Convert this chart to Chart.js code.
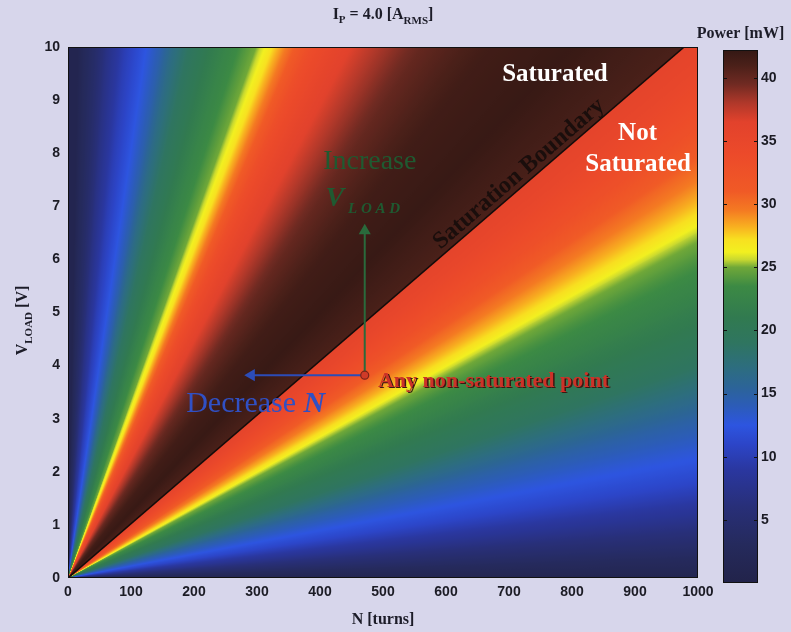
<!DOCTYPE html>
<html><head><meta charset="utf-8">
<script src="https://cdn.jsdelivr.net/npm/chart.js@4.4.0/dist/chart.umd.min.js"></script>
<style>
html,body{margin:0;padding:0;background:#d7d6eb;}
#wrap{position:relative;width:791px;height:632px;overflow:hidden;background:#d7d6eb;}
#main{position:absolute;left:0;top:0;width:791px;height:632px;}
#cbar{position:absolute;left:690px;top:0;width:101px;height:632px;}
</style></head><body>
<div id="wrap">
<canvas id="main" width="791" height="632"></canvas>
<canvas id="cbar" width="101" height="632"></canvas>
</div>
<script>
// ---------- DATA ----------
const xTicks = [0,100,200,300,400,500,600,700,800,900,1000];
const yTicks = [0,1,2,3,4,5,6,7,8,9,10];
const cbarTicks = [5,10,15,20,25,30,35,40];
const cbarRange = [0, 42.2];
const nRange = [0, 1000];
const vRange = [0, 10];

// Power along rays V/N (volts per turn), saturated side (steep rays -> boundary)
const satSlope = [1.0, 0.40, 0.224, 0.16, 0.11, 0.0806, 0.068, 0.061, 0.052, 0.043, 0.037, 0.0335, 0.031, 0.0285, 0.026, 0.023, 0.0204, 0.0178, 0.015, 0.0125, 0.01023];
const satPower = [1.0, 2.5, 4.5, 7.0, 10.0, 12.5, 14.5, 16.5, 19.0, 21.5, 23.5, 25.0, 27.0, 30.0, 33.5, 36.0, 38.0, 40.0, 41.5, 42.0, 41.0];
// non-saturated side (boundary -> N axis)
const unsatSlope = [0.01023, 0.0095, 0.0085, 0.0078, 0.0072, 0.0068, 0.0065, 0.006, 0.005, 0.004, 0.0035, 0.003, 0.0024, 0.0018, 0.0012, 0.0006, 0.0];
const unsatPower = [36.0, 35.0, 33.0, 30.5, 28.5, 27.0, 25.5, 24.0, 21.5, 19.0, 17.0, 15.0, 13.0, 11.0, 8.0, 4.5, 1.0];

// saturation boundary line
const boundaryN = [0, 978];
const boundaryV = [0, 10];
// operating point and arrows
const pointN = [471];
const pointV = [3.82];
const upArrowV = [3.82, 6.54];
const leftArrowN = [471, 291];

// colour map (Power mW -> colour)
const cmapPower = [0, 3, 6, 9, 11, 12.5, 14, 15.5, 17, 19, 21, 23.5, 25, 25.6, 26.2, 27.2, 28.2, 29.5, 31, 34, 36.5, 38, 39.5, 41, 42.2];
const cmapColor = ['#22234a','#252a5c','#282f78','#2a37a0','#2c45c8','#2d55e0','#2c5cb8','#2c6498','#2d6d80','#2f7560','#317a50','#3c8a44','#70a838','#c8d830','#f2f020','#f8e020','#f8b020','#f47a22','#f05a26','#ec4a2a','#e2422c','#b0382a','#702a22','#4a2019','#341814'];

// ---------- helpers ----------
function hex2rgb(h){return [parseInt(h.substr(1,2),16),parseInt(h.substr(3,2),16),parseInt(h.substr(5,2),16)];}
const cmapRGB = cmapColor.map(hex2rgb);
function cmap(p){
  if(p<=cmapPower[0]) return 'rgb('+cmapRGB[0].join(',')+')';
  for(let i=0;i<cmapPower.length-1;i++){
    if(p<=cmapPower[i+1]){
      const t=(p-cmapPower[i])/(cmapPower[i+1]-cmapPower[i]);
      const a=cmapRGB[i], b=cmapRGB[i+1];
      return 'rgb('+[0,1,2].map(j=>Math.round(a[j]+(b[j]-a[j])*t)).join(',')+')';
    }
  }
  return 'rgb('+cmapRGB[cmapRGB.length-1].join(',')+')';
}
const SUB = 14;
function fieldGradient(chart){
  const {ctx, chartArea, scales} = chart;
  if(!chartArea) return 'rgba(0,0,0,0)';
  const xs=scales.x, ys=scales.y;
  const x0=xs.getPixelForValue(0), y0=ys.getPixelForValue(0);
  const px=xs.getPixelForValue(nRange[1])-x0;
  const off = k => Math.atan2(px, y0-ys.getPixelForValue(k*nRange[1]))/(2*Math.PI);
  const g = ctx.createConicGradient(-Math.PI/2, x0, y0);
  g.addColorStop(0, cmap(satPower[0]));
  function addProfile(sl, pw){
    for(let i=0;i<sl.length-1;i++){
      const o1=off(sl[i]), o2=off(sl[i+1]);
      for(let s=0;s<SUB;s++){const t=s/SUB; g.addColorStop(o1+(o2-o1)*t, cmap(pw[i]+(pw[i+1]-pw[i])*t));}
    }
    g.addColorStop(off(sl[sl.length-1]), cmap(pw[pw.length-1]));
  }
  addProfile(satSlope, satPower);
  addProfile(unsatSlope, unsatPower);
  g.addColorStop(1, cmap(unsatPower[unsatPower.length-1]));
  return g;
}

const SERIF = '"Liberation Serif","Times New Roman",serif';
const SANS = '"Liberation Sans",Arial,sans-serif';
function drawRuns(ctx, runs, x, y){
  let w=0; runs.forEach(r=>{ctx.font=r[1]; w+=ctx.measureText(r[0]).width;});
  let cx=x-w/2;
  runs.forEach(r=>{ctx.font=r[1]; ctx.fillText(r[0], cx, y+(r[2]||0)); cx+=ctx.measureText(r[0]).width;});
}

const textPlugin = {
  id:'texts',
  afterDatasetsDraw(chart){
    const {ctx, chartArea:a, scales:{x:xs,y:ys}} = chart;
    ctx.save();
    // frame
    ctx.strokeStyle='#111'; ctx.lineWidth=1;
    ctx.strokeRect(a.left+0.5, a.top+0.5, a.right-a.left-1, a.bottom-a.top-1);
    ctx.textBaseline='alphabetic';
    // in-plot annotations
    const P=(n,v)=>[xs.getPixelForValue(n), ys.getPixelForValue(v)];
    ctx.fillStyle='#ffffff';
    let p=P(773,9.53); drawRuns(ctx, [['Saturated','bold 25px '+SERIF]], p[0], p[1]+9);
    p=P(904,8.42); drawRuns(ctx, [['Not','bold 25px '+SERIF]], p[0], p[1]+9);
    p=P(905,7.83); drawRuns(ctx, [['Saturated','bold 25px '+SERIF]], p[0], p[1]+9);
    // boundary label rotated along the line
    const b0=P(boundaryN[0],boundaryV[0]), b1=P(boundaryN[1],boundaryV[1]);
    const ang=Math.atan2(b1[1]-b0[1], b1[0]-b0[0]);
    p=P(713,7.65);
    ctx.save(); ctx.translate(p[0],p[1]); ctx.rotate(ang);
    ctx.fillStyle='#1a0e0c'; drawRuns(ctx, [['Saturation Boundary','bold 24px '+SERIF]], 0, 9);
    ctx.restore();
    // increase V_LOAD
    ctx.fillStyle='#1f5a31';
    p=P(479,7.87); drawRuns(ctx, [['Increase','28px '+SERIF]], p[0], p[1]+9);
    p=P(468,7.18); drawRuns(ctx, [['V','italic bold 28px '+SERIF],[' L O A D','italic bold 15px '+SERIF,7]], p[0], p[1]+9);
    // decrease N
    ctx.fillStyle='#3050c4';
    p=P(298,3.31); drawRuns(ctx, [['Decrease ','30px '+SERIF],['N','italic bold 30px '+SERIF]], p[0], p[1]+10);
    // any non-saturated point
    p=P(492,3.73);
    ctx.font='bold 22px '+SERIF; ctx.textAlign='left';
    ctx.fillStyle='#3a1812'; ctx.fillText('Any non-saturated point', p[0]+1.5, p[1]+8.5);
    ctx.fillStyle='#cc3228'; ctx.fillText('Any non-saturated point', p[0], p[1]+7);
    // title and axis titles
    ctx.fillStyle='#1c1c28';
    drawRuns(ctx, [['I','bold 16px '+SERIF],['P','bold 11px '+SERIF,4],[' = 4.0 [A','bold 16px '+SERIF],['RMS','bold 11px '+SERIF,5],[']','bold 16px '+SERIF]], (a.left+a.right)/2, 19);
    drawRuns(ctx, [['N [turns]','bold 16px '+SERIF]], (a.left+a.right)/2, 624);
    ctx.save(); ctx.translate(27, (a.top+a.bottom)/2+8); ctx.rotate(-Math.PI/2);
    drawRuns(ctx, [['V','bold 16px '+SERIF],['LOAD','bold 11px '+SERIF,5],[' [V]','bold 16px '+SERIF]], 0, 0);
    ctx.restore();
    ctx.restore();
  }
};

const tickFont = {family:SANS, weight:'bold', size:14};
const plain = v => String(v);
new Chart(document.getElementById('main'), {
  type:'scatter',
  data:{datasets:[
    {type:'line', data:[{x:nRange[0],y:vRange[1]},{x:nRange[1],y:vRange[1]}], fill:'start', backgroundColor:c=>fieldGradient(c.chart), borderWidth:0, pointRadius:0, order:10},
    {type:'line', data:boundaryN.map((n,i)=>({x:n,y:boundaryV[i]})), borderColor:'#140c0a', borderWidth:1.6, pointRadius:0, fill:false, order:5},
    {type:'line', data:upArrowV.map(v=>({x:pointN[0],y:v})), borderColor:'#2a6a3c', borderWidth:2, pointRadius:[0,5], pointStyle:'triangle', rotation:0, pointBackgroundColor:'#2a6a3c', pointBorderColor:'#2a6a3c', fill:false, order:4},
    {type:'line', data:leftArrowN.map(n=>({x:n,y:pointV[0]})), borderColor:'#2c4cb8', borderWidth:2, pointRadius:[0,5], pointStyle:'triangle', rotation:-90, pointBackgroundColor:'#2c4cb8', pointBorderColor:'#2c4cb8', fill:false, order:3},
    {type:'scatter', data:pointN.map((n,i)=>({x:n,y:pointV[i]})), pointRadius:4, pointBackgroundColor:'#d03a28', pointBorderColor:'#7a2418', pointBorderWidth:1.2, order:1}
  ]},
  options:{
    responsive:false, animation:false, devicePixelRatio:1,
    layout:{padding:{left:0, top:47, right:93, bottom:0}},
    plugins:{legend:{display:false}, tooltip:{enabled:false}, title:{display:false}},
    scales:{
      x:{type:'linear', min:nRange[0], max:nRange[1], afterBuildTicks:s=>{s.ticks=xTicks.map(v=>({value:v}));}, afterFit:s=>{s.height=54;},
         grid:{display:false, drawTicks:false}, border:{display:false},
         ticks:{padding:6, color:'#1b1b24', font:tickFont, maxRotation:0, autoSkip:false, callback:plain}},
      y:{type:'linear', min:vRange[0], max:vRange[1], afterBuildTicks:s=>{s.ticks=yTicks.map(v=>({value:v}));}, afterFit:s=>{s.width=68;},
         grid:{display:false, drawTicks:false}, border:{display:false},
         ticks:{padding:8, color:'#1b1b24', font:tickFont, autoSkip:false, callback:plain}}
    }
  },
  plugins:[textPlugin]
});

// ---------- colour bar ----------
function cbarGradient(chart){
  const {ctx, chartArea, scales} = chart;
  if(!chartArea) return 'rgba(0,0,0,0)';
  const y0=scales.y.getPixelForValue(cbarRange[0]), y1=scales.y.getPixelForValue(cbarRange[1]);
  const g=ctx.createLinearGradient(0,y0,0,y1);
  cmapPower.forEach((p,i)=>g.addColorStop(Math.min(1,(p-cbarRange[0])/(cbarRange[1]-cbarRange[0])), cmapColor[i]));
  return g;
}
const cbarPlugin = {
  id:'cbarDeco',
  afterDatasetsDraw(chart){
    const {ctx, chartArea:a, scales:{y:ys}} = chart;
    ctx.save();
    ctx.strokeStyle='#111'; ctx.lineWidth=1;
    ctx.strokeRect(a.left+0.5, a.top+0.5, a.right-a.left-1, a.bottom-a.top-1);
    cbarTicks.forEach(v=>{
      const y=Math.round(ys.getPixelForValue(v))+0.5;
      ctx.beginPath(); ctx.moveTo(a.left,y); ctx.lineTo(a.left+4,y); ctx.moveTo(a.right-4,y); ctx.lineTo(a.right,y); ctx.stroke();
    });
    ctx.fillStyle='#1c1c28'; ctx.textBaseline='alphabetic';
    drawRuns(ctx, [['Power [mW]','bold 16px '+SERIF]], (a.left+a.right)/2, 38);
    ctx.restore();
  }
};
new Chart(document.getElementById('cbar'), {
  type:'bar',
  data:{labels:[''], datasets:[{data:[cbarRange.slice()], backgroundColor:c=>cbarGradient(c.chart), borderWidth:0, barPercentage:1, categoryPercentage:1}]},
  options:{
    responsive:false, animation:false, devicePixelRatio:1,
    layout:{padding:{left:33, top:50, right:0, bottom:49}},
    plugins:{legend:{display:false}, tooltip:{enabled:false}},
    scales:{
      x:{display:false},
      y:{position:'right', min:cbarRange[0], max:cbarRange[1], afterBuildTicks:s=>{s.ticks=cbarTicks.map(v=>({value:v}));}, afterFit:s=>{s.width=33;},
         grid:{display:false, drawTicks:false}, border:{display:false},
         ticks:{padding:3, color:'#1b1b24', font:tickFont, autoSkip:false, callback:plain}}
    }
  },
  plugins:[cbarPlugin]
});
</script>
</body></html>
